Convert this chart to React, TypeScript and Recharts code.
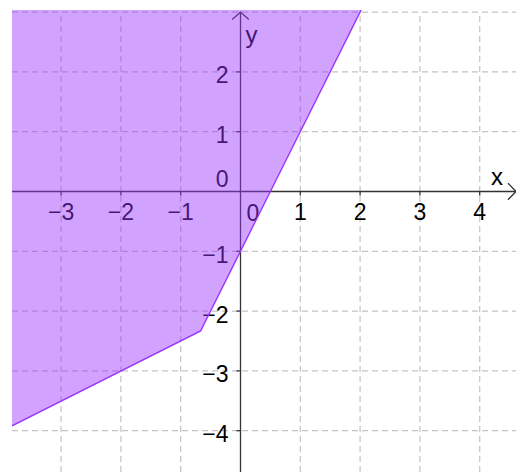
import React from "react";
import { ComposedChart, XAxis, YAxis, Area, Line, ReferenceLine, ReferenceDot } from "recharts";

// Visible window of the coordinate plane
const X_MIN = -3.821;
const X_MAX = 4.607;
const Y_MIN = -4.691;
const Y_MAX = 3.035;

// Grid lines
const gridX = [-3, -2, -1, 1, 2, 3, 4];
const gridY = [-4, -3, -2, -1, 1, 2, 3];
const gridTopY = 3;

// Tick labels
const xTicks = [-3, -2, -1, 1, 2, 3, 4];
const xTickLabels = ["\u22123", "\u22122", "\u22121", "1", "2", "3", "4"];
const yTicks = [-4, -3, -2, -1, 1, 2];
const yTickLabels = ["\u22124", "\u22123", "\u22122", "\u22121", "1", "2"];

// Shaded region: boundary (lower edge) and top of view
const regionX = [-3.821, -0.667, 2.018];
const regionLow = [-3.92, -2.333, 3.035];
const regionHigh = [3.035, 3.035, 3.035];

const data = regionX.map((x, i) => ({
  x,
  band: [regionLow[i], regionHigh[i]],
  edge: regionLow[i],
}));

const FONT = "'Liberation Sans', Arial, Helvetica, sans-serif";
const AXIS = "#333333";
const GRID = "#c4c4c4";
const FILL = "#9933ff";
const TICK_FONT = 23;

export default function App() {
  return (
    <div style={{ position: "absolute", left: 0, top: 0, width: 516, height: 472, background: "#fff" }}>
      <ComposedChart
        width={516}
        height={472}
        data={data}
        margin={{ top: 10, right: 0, bottom: 0, left: 12 }}
      >
        <XAxis type="number" dataKey="x" domain={[X_MIN, X_MAX]} hide allowDataOverflow />
        <YAxis type="number" domain={[Y_MIN, Y_MAX]} hide allowDataOverflow />

        {gridX.map((v) => (
          <ReferenceLine
            key={"gx" + v}
            segment={[{ x: v, y: Y_MIN }, { x: v, y: gridTopY }]}
            stroke={GRID}
            strokeDasharray="6 4"
            strokeWidth={1.2}
            ifOverflow="visible"
          />
        ))}
        {gridY.map((v) => (
          <ReferenceLine
            key={"gy" + v}
            segment={[{ x: X_MIN, y: v }, { x: X_MAX, y: v }]}
            stroke={GRID}
            strokeDasharray="6 4"
            strokeWidth={1.2}
            ifOverflow="visible"
          />
        ))}

        {/* axes */}
        <ReferenceLine
          segment={[{ x: X_MIN, y: 0 }, { x: X_MAX, y: 0 }]}
          stroke={AXIS}
          strokeWidth={1.3}
          ifOverflow="visible"
        />
        <ReferenceLine
          segment={[{ x: 0, y: Y_MIN }, { x: 0, y: 3.0 }]}
          stroke={AXIS}
          strokeWidth={1.3}
          ifOverflow="visible"
        />

        {/* arrows and axis names */}
        <ReferenceDot
          x={X_MAX}
          y={0}
          r={0}
          ifOverflow="visible"
          shape={(p: any) => (
            <g>
              <polyline
                points={`${p.cx - 8},${p.cy - 8.3} ${p.cx},${p.cy} ${p.cx - 8},${p.cy + 8.3}`}
                fill="none"
                stroke={AXIS}
                strokeWidth={1.3}
              />
              <text x={p.cx - 25} y={p.cy - 6.5} fontFamily={FONT} fontSize={24} fill="#000">
                x
              </text>
            </g>
          )}
        />
        <ReferenceDot
          x={0}
          y={3.0}
          r={0}
          ifOverflow="visible"
          shape={(p: any) => (
            <g>
              <polyline
                points={`${p.cx - 8.3},${p.cy + 7.5} ${p.cx},${p.cy} ${p.cx + 8.3},${p.cy + 7.5}`}
                fill="none"
                stroke={AXIS}
                strokeWidth={1.3}
              />
              <text x={p.cx + 5} y={p.cy + 31} fontFamily={FONT} fontSize={24} fill="#000">
                y
              </text>
            </g>
          )}
        />

        {/* x ticks */}
        {xTicks.map((v, i) => (
          <ReferenceDot
            key={"xt" + v}
            x={v}
            y={0}
            r={0}
            ifOverflow="visible"
            shape={(p: any) => (
              <g>
                <line x1={p.cx} y1={p.cy} x2={p.cx} y2={p.cy + 4} stroke={AXIS} strokeWidth={1.3} />
                <text
                  x={p.cx}
                  y={p.cy + 29}
                  textAnchor="middle"
                  fontFamily={FONT}
                  fontSize={TICK_FONT}
                  fill="#000"
                >
                  {xTickLabels[i]}
                </text>
              </g>
            )}
          />
        ))}
        {/* y ticks */}
        {yTicks.map((v, i) => (
          <ReferenceDot
            key={"yt" + v}
            x={0}
            y={v}
            r={0}
            ifOverflow="visible"
            shape={(p: any) => (
              <g>
                <line x1={p.cx - 4} y1={p.cy} x2={p.cx} y2={p.cy} stroke={AXIS} strokeWidth={1.3} />
                <text
                  x={p.cx - 12}
                  y={p.cy + 11.5}
                  textAnchor="end"
                  fontFamily={FONT}
                  fontSize={TICK_FONT}
                  fill="#000"
                >
                  {yTickLabels[i]}
                </text>
              </g>
            )}
          />
        ))}
        {/* origin labels */}
        <ReferenceDot
          x={0}
          y={0}
          r={0}
          ifOverflow="visible"
          shape={(p: any) => (
            <g>
              <text x={p.cx + 12.5} y={p.cy + 30} textAnchor="middle" fontFamily={FONT} fontSize={TICK_FONT} fill="#000">
                0
              </text>
              <text x={p.cx - 12} y={p.cy - 4.5} textAnchor="end" fontFamily={FONT} fontSize={TICK_FONT} fill="#000">
                0
              </text>
            </g>
          )}
        />

        <Area
          type="linear"
          dataKey="band"
          stroke="none"
          fill={FILL}
          fillOpacity={0.45}
          isAnimationActive={false}
          zIndex={1000}
        />
        <Line
          type="linear"
          dataKey="edge"
          stroke={FILL}
          strokeWidth={1.4}
          dot={false}
          activeDot={false}
          isAnimationActive={false}
          zIndex={1001}
        />
      </ComposedChart>
    </div>
  );
}
